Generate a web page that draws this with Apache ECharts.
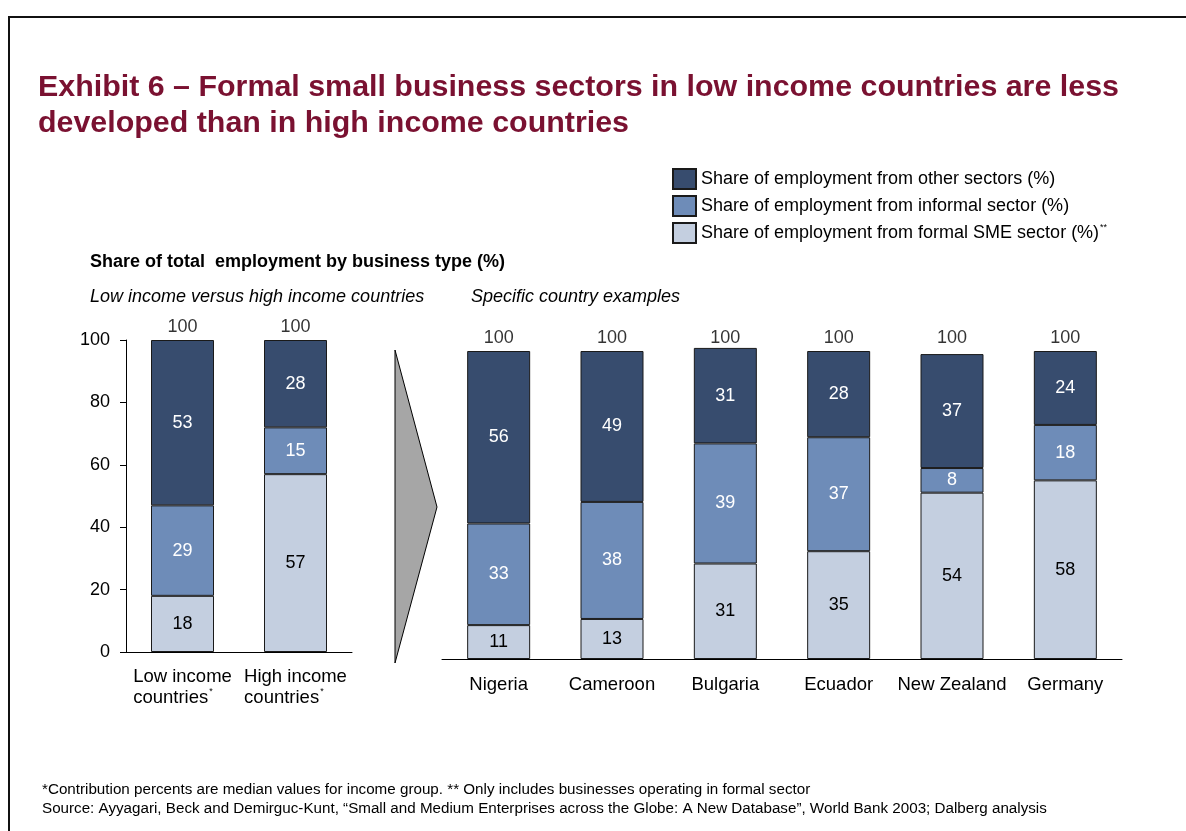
<!DOCTYPE html>
<html>
<head>
<meta charset="utf-8">
<title>Exhibit 6</title>
<script src="https://cdn.jsdelivr.net/npm/echarts@6/dist/echarts.min.js"></script>
<style>
  html, body { margin: 0; padding: 0; background: #ffffff; }
  #chart { width: 1186px; height: 831px; }
</style>
</head>
<body>
<div id="chart"></div>
<script>
// Income-group medians (share of total employment, %)
const incomeGroups = ['Low income', 'High income'];
const incomeSme = [18, 57];
const incomeInformal = [29, 15];
const incomeOther = [53, 28];
const incomeTotal = [100, 100];

// Country examples (share of total employment, %)
const countries = ['Nigeria', 'Cameroon', 'Bulgaria', 'Ecuador', 'New Zealand', 'Germany'];
const countrySme = [11, 13, 31, 35, 54, 58];
const countryInformal = [33, 38, 39, 37, 8, 18];
const countryOther = [56, 49, 31, 28, 37, 24];
const countryTotal = [100, 100, 100, 100, 100, 100];

// Value axis ticks
const yMin = 0, yMax = 100, yStep = 20;

const NAME_OTHER = 'Share of employment from other sectors (%)';
const NAME_INFORMAL = 'Share of employment from informal sector (%)';
const NAME_SME = 'Share of employment from formal SME sector (%)';

const FONT = 'Liberation Sans, Arial, sans-serif';
const C_OTHER = '#374c6e';
const C_INFORMAL = '#6e8cb8';
const C_SME = '#c4cfe0';
const TITLE_COLOR = '#7a1131';
const FS = 18;

function segment(name, data, color, labelColor, gridIdx) {
  return {
    name: name,
    type: 'bar',
    stack: 'g' + gridIdx,
    xAxisIndex: gridIdx,
    yAxisIndex: gridIdx,
    data: data,
    barWidth: 63,
    clip: false,
    itemStyle: { color: color, borderColor: '#1a1a1a', borderWidth: 1 },
    label: {
      show: true,
      position: 'inside',
      color: labelColor,
      fontFamily: FONT,
      fontSize: FS
    },
    emphasis: { disabled: true }
  };
}

function totals(data, gridIdx) {
  return {
    name: 'total',
    type: 'scatter',
    xAxisIndex: gridIdx,
    yAxisIndex: gridIdx,
    data: data,
    symbolSize: 0,
    clip: false,
    silent: true,
    label: {
      show: true,
      position: 'top',
      distance: 4,
      color: '#000',
      fontFamily: FONT,
      fontSize: FS
    }
  };
}

const chart = echarts.init(document.getElementById('chart'), null, { renderer: 'canvas' });

const option = {
  backgroundColor: '#ffffff',
  animation: false,
  textStyle: { fontFamily: FONT },
  title: [
    {
      text: 'Exhibit 6 \u2013 Formal small business sectors in low income countries are less\ndeveloped than in high income countries',
      left: 38, top: 70, padding: 0,
      textStyle: { fontFamily: FONT, fontSize: 30.4, fontWeight: 'bold', color: TITLE_COLOR, lineHeight: 36 }
    },
    {
      text: 'Share of total  employment by business type (%)',
      left: 90, top: 252, padding: 0,
      textStyle: { fontFamily: FONT, fontSize: 18, fontWeight: 'bold', color: '#000', lineHeight: 20 }
    },
    {
      text: 'Low income versus high income countries',
      left: 90, top: 286, padding: 0,
      textStyle: { fontFamily: FONT, fontSize: 18, fontStyle: 'italic', fontWeight: 'normal', color: '#000', lineHeight: 21 }
    },
    {
      text: 'Specific country examples',
      left: 471, top: 286, padding: 0,
      textStyle: { fontFamily: FONT, fontSize: 18, fontStyle: 'italic', fontWeight: 'normal', color: '#000', lineHeight: 21 }
    },
    {
      text: '*Contribution percents are median values for income group. ** Only includes businesses operating in formal sector\nSource: Ayyagari, Beck and Demirguc-Kunt, \u201cSmall and Medium Enterprises across the Globe: A New Database\u201d, World Bank 2003; Dalberg analysis',
      left: 42, top: 780, padding: 0,
      textStyle: { fontFamily: FONT, fontSize: 15.2, fontWeight: 'normal', color: '#000', lineHeight: 19 }
    }
  ],
  legend: {
    orient: 'vertical',
    left: 672, top: 168, padding: 0,
    itemWidth: 23, itemHeight: 20, itemGap: 5,
    icon: 'rect',
    selectedMode: false,
    data: [NAME_OTHER, NAME_INFORMAL, NAME_SME],
    formatter: function (name) {
      return name === NAME_SME ? name + '{sup|**}' : name;
    },
    textStyle: {
      fontFamily: FONT, fontSize: FS, color: '#000', lineHeight: 20,
      rich: { sup: { fontFamily: FONT, fontSize: 9, lineHeight: 20, verticalAlign: 'top', padding: [0, 0, 8, 1] } }
    }
  },
  graphic: [
    // outer frame
    { type: 'rect', shape: { x: 9, y: 17, width: 1400, height: 1000 }, style: { fill: 'none', stroke: '#111', lineWidth: 2 }, silent: true },
    // chevron between the two panels
    { type: 'polygon', shape: { points: [[395, 350], [437, 507], [395, 663]] }, style: { fill: '#a6a6a6', stroke: '#000', lineWidth: 1 }, silent: true }
  ],
  grid: [
    { left: 126, top: 340, width: 226, height: 312 },
    { left: 442, top: 351, width: 680, height: 308 }
  ],
  xAxis: [
    {
      type: 'category', gridIndex: 0, data: incomeGroups,
      axisLine: { lineStyle: { color: '#000', width: 1 } },
      axisTick: { show: false },
      axisLabel: {
        margin: 14, interval: 0,
        formatter: function (v) { return '{t|' + v + '}\n{t|countries}{sup|*}'; },
        rich: {
          t: { fontFamily: FONT, fontSize: 18.5, color: '#000', lineHeight: 21, align: 'left' },
          sup: { fontFamily: FONT, fontSize: 9, color: '#000', align: 'left', verticalAlign: 'top', padding: [0, 0, 10, 1] }
        }
      }
    },
    {
      type: 'category', gridIndex: 1, data: countries,
      axisLine: { lineStyle: { color: '#000', width: 1 } },
      axisTick: { show: false },
      axisLabel: { margin: 16, interval: 0, fontFamily: FONT, fontSize: 18.5, color: '#000' }
    }
  ],
  yAxis: [
    {
      type: 'value', gridIndex: 0, min: yMin, max: yMax, interval: yStep,
      axisLine: { show: true, lineStyle: { color: '#000', width: 1 } },
      axisTick: { show: true, length: 6, lineStyle: { color: '#000' } },
      axisLabel: { margin: 16, fontFamily: FONT, fontSize: FS, color: '#000' },
      splitLine: { show: false }
    },
    {
      type: 'value', gridIndex: 1, min: yMin, max: yMax, interval: yStep,
      show: false
    }
  ],
  series: [
    segment(NAME_SME, incomeSme, C_SME, '#000', 0),
    segment(NAME_INFORMAL, incomeInformal, C_INFORMAL, '#fff', 0),
    segment(NAME_OTHER, incomeOther, C_OTHER, '#fff', 0),
    totals(incomeTotal, 0),
    segment(NAME_SME, countrySme, C_SME, '#000', 1),
    segment(NAME_INFORMAL, countryInformal, C_INFORMAL, '#fff', 1),
    segment(NAME_OTHER, countryOther, C_OTHER, '#fff', 1),
    totals(countryTotal, 1)
  ]
};

chart.setOption(option);
</script>
</body>
</html>
